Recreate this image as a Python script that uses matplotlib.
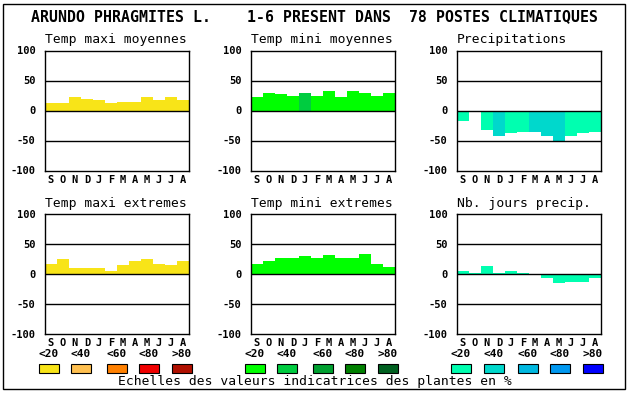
import matplotlib
matplotlib.use("Agg")
import matplotlib.pyplot as plt
from matplotlib.patches import Rectangle

months = ["S", "O", "N", "D", "J", "F", "M", "A", "M", "J", "J", "A"]
yticks = [100, 50, 0, -50, -100]

tmax_moy = [13.3, 11.7, 21.7, 20, 16.7, 13.3, 15, 15, 21.7, 16.7, 21.7, 16.7]
tmin_moy = [21.7, 30, 26.7, 25, 30, 25, 31.7, 23.3, 31.7, 30, 25, 30]
precip = [-16.7, 0, -31.7, -43.3, -36.7, -35, -35, -41.7, -50, -43.3, -36.7, -35]
tmax_ext = [17, 25.6, 10.6, 10.6, 10.6, 5.6, 15.6, 22, 25.6, 17, 15.6, 22]
tmin_ext = [17, 22, 27, 27, 30.5, 27, 32, 27, 27, 34, 17, 12]
nb_jours = [5.6, 2.2, 14, 2.2, 5.6, 2.2, 0, -7, -14.4, -12.8, -12.8, -7]

# class index (0 = <20, 1 = <40 ...) per month
tmin_moy_cls = [0, 0, 0, 0, 1, 0, 0, 0, 0, 0, 0, 0]
precip_cls = [0, 0, 0, 1, 0, 0, 1, 1, 1, 0, 0, 0]

titles = ["Temp maxi moyennes", "Temp mini moyennes", "Precipitations",
          "Temp maxi extremes", "Temp mini extremes", "Nb. jours precip."]
legend_labels = ["<20", "<40", "<60", "<80", ">80"]

yellows = ["#f8e418", "#ffc050", "#ff8000", "#f00000", "#b01000"]
greens = ["#00ff00", "#00cc40", "#00a030", "#008000", "#006020"]
blues = ["#00ffb0", "#00d8cc", "#00b8e0", "#0098f0", "#0000ff"]

main_title = "ARUNDO PHRAGMITES L.    1-6 PRESENT DANS  78 POSTES CLIMATIQUES"
footer = "Echelles des valeurs indicatrices des plantes en %"

W, H = 630, 394
fig = plt.figure(figsize=(W / 100, H / 100), dpi=100)

mono = "DejaVu Sans Mono"

def fx(px):
    return px / W

def fy(py):
    return 1 - py / H

lefts = [45, 251, 457]
tops = [50.5, 214.3]
aw, ah = 144, 120

panels = [
    (tmax_moy, [yellows[0]] * 12),
    (tmin_moy, [greens[c] for c in tmin_moy_cls]),
    (precip, [blues[c] for c in precip_cls]),
    (tmax_ext, [yellows[0]] * 12),
    (tmin_ext, [greens[0]] * 12),
    (nb_jours, [blues[0]] * 12),
]

for i, (vals, cols) in enumerate(panels):
    r, c = divmod(i, 3)
    l = lefts[c]
    t = tops[r]
    ax = fig.add_axes([fx(l), fy(t + ah), aw / W, ah / H])
    xs = [k + 0.5 for k in range(len(months))]
    ax.bar(xs, vals, width=1.0, color=cols, linewidth=0, zorder=1)
    for yv in [50, 0, -50]:
        ax.axhline(yv, color="black", lw=1.0, zorder=3)
    ax.set_xlim(0, 12)
    ax.set_ylim(-100, 100)
    ax.set_yticks(yticks)
    ax.set_yticklabels([str(v) for v in yticks], fontfamily=mono,
                       fontweight="bold", fontsize=7.5)
    ax.set_xticks(xs)
    ax.set_xticklabels(months, fontfamily=mono, fontweight="bold", fontsize=7.5)
    ax.tick_params(axis="both", length=0)
    ax.tick_params(axis="y", pad=7)
    ax.tick_params(axis="x", pad=3)
    for s in ax.spines.values():
        s.set_linewidth(1.0)
    fig.text(fx(l), fy(t - 11), titles[i], fontfamily=mono, fontsize=9.4,
             ha="left", va="center")

fig.text(fx(31), fy(17), main_title, fontfamily=mono, fontweight="bold",
         fontsize=10.7, ha="left", va="center")

# legend
box_x = [[39, 71, 107, 139, 172], [245, 277, 313, 345, 378], [451, 484, 518, 550, 583]]
palettes = [yellows, greens, blues]
for g in range(3):
    for k in range(5):
        bx = box_x[g][k]
        fig.text(fx(bx + 10), fy(354), legend_labels[k], fontfamily=mono,
                 fontweight="bold", fontsize=8, ha="center", va="center")
        fig.add_artist(Rectangle((fx(bx), fy(373)), 20 / W, 9 / H,
                                 transform=fig.transFigure,
                                 facecolor=palettes[g][k], edgecolor="black",
                                 linewidth=0.8))

fig.text(fx(315), fy(382), footer, fontfamily=mono, fontsize=9.4,
         ha="center", va="center")

fig.add_artist(Rectangle((fx(3), fy(389)), 622 / W, 385 / H,
                         transform=fig.transFigure, facecolor="none",
                         edgecolor="black", linewidth=1.0))

fig.savefig("out.png", dpi=100)
